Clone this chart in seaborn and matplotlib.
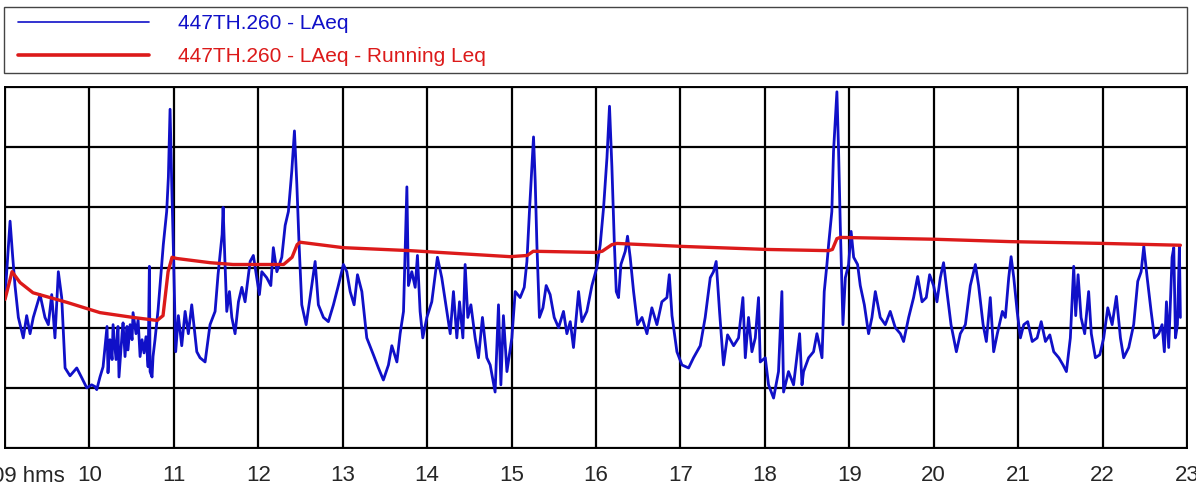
import numpy as np
import pandas as pd
import seaborn as sns
import matplotlib.pyplot as plt
from matplotlib.lines import Line2D
from matplotlib.ticker import MultipleLocator

# LAeq trace, minutes after 09:00 and dB
blue_min = [0, 3.6, 5.5, 7.1, 9.5, 13.0, 15.4, 17.8, 20.1, 24.9, 28.4, 30.8, 33.2, 35.5, 37.9,
            40.3, 42.7, 46.2, 51.0, 54.5, 58.1, 61.6, 64.0, 65.2, 67.5, 69.7, 72.5, 73.2, 74.6,
            76.1, 76.8, 78.9, 80.3, 81.0, 83.2, 83.9, 85.3, 86.7, 87.4, 88.9, 90.3, 91.0, 93.1,
            94.6, 96.0, 97.4, 98.8, 100.2, 101.7, 102.6, 103.1, 104.5, 105.2, 106.6, 108.8,
            112.5, 114.9, 116.1,
            117.3, 118.5, 119.7, 121.3, 123.2, 125.6, 128.0, 130.3, 132.7, 136.3, 138.6, 142.2,
            145.7, 149.3, 151.4, 154.3, 155.0, 156.2, 157.6, 159.5, 161.2, 163.5, 165.9, 168.3,
            170.6, 174.2, 176.5, 178.9, 180.8, 182.5, 186.0, 188.9, 190.7, 193.2, 196.7, 199.1,
            201.4, 203.8, 205.7, 207.4, 209.0, 210.9, 214.0, 216.8, 220.4, 222.7, 226.3, 229.8,
            233.4, 236.9, 240.5, 242.9, 245.3, 248.1, 250.5, 253.6, 257.1, 261.8, 265.4, 268.9,
            272.5, 274.9, 278.5, 280.8, 283.2, 285.6, 286.7, 289.1, 291.5, 293.1, 295.0, 296.9,
            299.8, 303.3, 307.3, 310.4, 314.0, 316.4, 318.7, 321.1, 323.0, 325.4, 327.0, 328.9,
            331.1, 334.1, 336.5, 339.3, 342.4, 344.8, 348.3, 350.7, 352.4, 354.2, 356.7, 360.2,
            362.6, 366.1, 369.0, 370.9, 372.7, 374.4, 375.6, 376.8, 378.0, 379.8, 382.3, 384.6,
            387.4, 390.3, 393.4, 396.9, 399.3, 401.7, 404.0, 407.6, 410.0, 413.5, 417.1, 420.6,
            423.0, 425.4, 427.8, 429.6, 431.3, 433.0, 434.4, 436.0, 437.7, 440.8, 442.4, 444.3,
            446.7, 449.5, 452.7, 456.2, 459.7, 463.3, 466.8, 470.4, 472.1, 474.0, 477.5, 481.1,
            485.8, 489.3, 494.1, 497.6, 501.2, 503.5, 505.4, 507.8, 510.6, 513.5, 517.8, 521.3,
            524.4, 526.1, 528.4, 530.8, 533.2, 535.5, 536.7, 540.3, 542.6, 546.2, 549.7, 552.1,
            553.3, 556.8, 560.4, 564.7, 566.4, 567.5, 571.1, 574.6, 577.0, 578.9, 580.6, 582.2,
            584.1, 585.3, 587.6, 588.8, 591.2, 592.4, 593.6, 595.5, 597.2, 599.5, 601.3, 603.1,
            605.9, 607.8, 610.7, 613.7, 616.1, 618.5, 622.0, 625.6, 629.1, 632.7, 636.3, 638.6,
            642.2, 645.7, 648.6, 651.7, 654.7, 657.1, 659.9, 662.3, 664.7, 667.0, 669.4, 672.3,
            676.1, 678.9, 682.5, 686.0, 689.6, 691.9, 695.1, 697.4, 700.2, 702.6, 705.2, 708.8,
            710.9, 713.3, 715.0, 716.9, 719.3, 721.6, 724.0, 726.8, 730.0, 733.5, 736.4, 739.4,
            742.5, 745.3, 748.9, 751.9, 754.3, 757.1, 759.5, 760.9, 762.6, 764.7, 767.3, 770.1,
            772.0, 774.9, 778.0, 780.8, 783.7, 786.8, 789.8, 792.7, 795.0, 798.6, 802.1, 805.0,
            807.4, 809.3, 811.7, 814.5, 816.9, 819.9, 822.3, 823.9, 825.4, 827.0, 829.4, 830.6,
            831.8, 833.2, 834.6, 835.3]
blue_db = [55, 67.7, 61.7, 57, 51.7, 48.3, 52, 49, 51.7, 55.5, 51.7, 50.5, 55.5, 48.3, 59.3,
           55, 43.3, 42, 43.3, 41.7, 40, 40.5, 40.2, 39.7, 41.8, 43.5, 50.2, 42.5, 48,
           44.7, 50.5, 44.7, 50.2, 41.8, 49, 50.8, 45.2, 50.2, 46.3, 50.5, 48, 52.5, 49,
           51.3, 45.2, 48, 45.8, 48.5, 43.5, 60.2, 42.7, 41.8, 45.2, 48, 53,
           63.8, 69.3, 75,
           86.3, 73.8, 62.7, 46, 52, 47, 52.7, 49, 53.8, 46, 45, 44.3,
           50.5, 52.7, 58.8, 65.5, 70, 61.7, 52.7, 56, 51.7, 49, 54.3, 56.7,
           54.3, 61, 62, 58.3, 55.5, 59.3, 58.3, 57, 63.3, 59.3, 61.7, 67,
           69.3, 76, 82.7, 73.8, 63.8, 53.8, 50.5, 55, 61, 53.8, 51.7, 51,
           53.8, 57, 60.5, 59.3, 56, 53.8, 58.8, 56, 48.3, 45.5, 43.3, 41.3,
           43.8, 47, 44.3, 49, 52.7, 73.4, 57, 59.3, 56.7, 62, 52.7, 48.3,
           51.7, 54.3, 61.7, 58.3, 52.7, 49, 56, 48.3, 54.3, 48.3, 60.5, 51.7,
           53.8, 48.3, 45, 51.7, 45, 43.8, 39.3, 53.8, 40.5, 52, 42.7, 48.3,
           56, 55, 56.7, 61, 69.3, 76.7, 81.7, 74.3, 63.8, 51.7, 53.3, 57,
           55.5, 51.7, 50, 52.7, 49, 51, 46.7, 56, 51, 52.7, 57, 60,
           63.8, 70, 78.3, 86.8, 76.7, 64.3, 56, 55, 60.5, 62.7, 65.2, 61.7,
           56, 50.5, 51.7, 49, 53.3, 50.5, 54.3, 55, 58.8, 52, 46, 43.8,
           43.3, 45, 47, 51.7, 58.3, 59.3, 61, 52.7, 43.8, 48.8, 47, 48.3,
           55, 45, 51.7, 46, 48.3, 55, 44.3, 45, 40.5, 38.3, 42.7, 56,
           39.3, 42.7, 40.5, 49, 40.5, 42.7, 45, 46, 49, 47, 45, 56,
           60.5, 63.8, 69.3, 79.3, 89.2, 79.3, 67, 50.5, 58.3, 60.5, 66, 61.7,
           60.5, 57, 53.8, 49, 51.7, 56, 51.7, 50.5, 52.7, 50, 49, 47.7,
           51.7, 55, 58.5, 54.3, 55, 58.8, 57, 54.3, 58.3, 60.8, 56, 50.5,
           46, 49, 50.5, 57, 60.5, 57, 50.5, 47.7, 55, 46, 49, 52.7,
           51.7, 58.3, 61.8, 58.3, 52.7, 48.3, 50.5, 51, 47.7, 48.3, 51, 47.7,
           48.8, 46, 45, 43.8, 42.7, 48.3, 60.2, 52, 58.8, 51.7, 49, 56,
           49, 45, 45.5, 48.3, 53.3, 50.5, 55.2, 48.3, 45, 46.7, 50.5, 57.7,
           59.3, 63.5, 58.3, 52.7, 48.3, 49, 50.5, 46, 54.3, 46.7, 61.7, 63.3,
           48.3, 50.5, 63.5, 51.7]

# running Leq
run_min = [0, 5.0, 10.7, 19.9, 44.1, 67.5, 91.0, 108.1, 112.3, 115.9, 118.7, 122.0, 145.7,
           162.1, 198.0, 204.0, 207.6, 209.7, 240.2, 287.9, 359.0, 371.1, 375.4, 420.0, 424.4,
           431.3, 434.9, 482.0, 541.7, 585.4, 588.0, 591.2, 593.6, 659.9, 714.4, 780.8, 835.3]
run_db = [54.7, 59.3, 57.5, 55.8, 54.2, 52.5, 51.7, 51.2, 52, 59.3, 61.7, 61.5, 60.8,
          60.5, 60.5, 61.7, 63.8, 64.2, 63.3, 62.8, 61.8, 62, 62.7, 62.5, 62.7,
          63.8, 64, 63.5, 63, 62.8, 63, 64.8, 65, 64.7, 64.3, 64, 63.7]

hour_ticks = list(range(9, 24))
hour_labels = [''] + [str(h) for h in range(10, 24)]

blue_col = '#1010c8'
red_col = '#dc1a1a'

df_b = pd.DataFrame({'hour': 9 + np.array(blue_min) / 60, 'db': blue_db})
df_r = pd.DataFrame({'hour': 9 + np.array(run_min) / 60, 'db': run_db})

sns.set_style('white')
plt.rcParams['font.family'] = ['Liberation Sans', 'DejaVu Sans']

fig = plt.figure(figsize=(11.96, 4.88), dpi=100)
ax = fig.add_axes([5 / 1196, 1 - 448 / 488, 1182 / 1196, 361 / 488])

sns.lineplot(data=df_b, x='hour', y='db', color=blue_col, lw=2.0, ax=ax, zorder=3)
sns.lineplot(data=df_r, x='hour', y='db', color=red_col, lw=2.4, ax=ax, zorder=4)

ax.set_xlim(9, 23)
ax.set_ylim(30, 90)
ax.set_xticks(hour_ticks)
ax.set_xticklabels(hour_labels, fontsize=16)
ax.xaxis.set_minor_locator(MultipleLocator(1 / 6))
ax.yaxis.set_major_locator(MultipleLocator(10))
ax.yaxis.set_minor_locator(MultipleLocator(2))
ax.set_yticklabels([])
ax.tick_params(axis='x', which='major', direction='out', length=9, width=1.2, color='black', pad=3)
ax.tick_params(axis='x', which='minor', direction='out', length=4.5, width=1, color='black')
ax.tick_params(axis='y', which='both', direction='out', length=4, width=1, color='black')
ax.grid(True, which='major', color='black', lw=1.6)
for s in ax.spines.values():
    s.set_color('black')
    s.set_linewidth(1.4)
ax.set_xlabel('')
ax.set_ylabel('')

fig.text(-8 / 1196, 1 - 476 / 488, '09 hms', fontsize=16, ha='left', va='center')

handles = [Line2D([], [], color=blue_col, lw=1.2),
           Line2D([], [], color=red_col, lw=2.6)]
leg = fig.legend(handles, ['447TH.260 - LAeq', '447TH.260 - LAeq - Running Leq'],
                 loc='upper left', bbox_to_anchor=(4 / 1196, 1 - 7 / 488, 1183 / 1196, 0),
                 mode='expand', fontsize=15, handlelength=6.6, handletextpad=1.4,
                 labelspacing=0.65, borderpad=0.35, borderaxespad=0, fancybox=False,
                 framealpha=1, edgecolor='#444444', labelcolor='linecolor')
leg.get_frame().set_linewidth(1.0)
# push the sample lines a little to the right, as in the original legend
for ln in leg.get_lines():
    xd = np.asarray(ln.get_xdata(), dtype=float)
    ln.set_xdata(np.linspace(xd[0] + 5, xd[-1], len(xd)))

fig.savefig('out.png', dpi=100)
